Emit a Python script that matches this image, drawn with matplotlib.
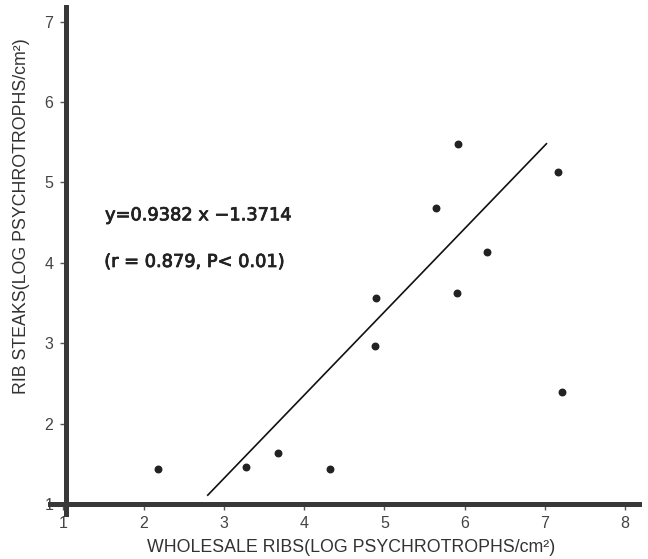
import matplotlib
matplotlib.use("Agg")
import matplotlib.pyplot as plt
import matplotlib.patheffects as pe

# Data
wholesale = [2.18, 3.28, 3.68, 4.32, 4.90, 4.89, 5.64, 5.92, 5.90, 6.28, 7.17, 7.22]
steaks    = [1.44, 1.46, 1.64, 1.44, 3.56, 2.97, 4.68, 5.48, 3.62, 4.13, 5.13, 2.39]
fit_x = [2.80, 7.02]
fit_y = [1.11, 5.48]
x_ticks = [1, 2, 3, 4, 5, 6, 7, 8]
y_ticks = [1, 2, 3, 4, 5, 6, 7]
eq_text = "y=0.9382 x \u22121.3714"
r_text = "(r = 0.879, P< 0.01)"
xlabel = "WHOLESALE RIBS(LOG PSYCHROTROPHS/cm\u00b2)"
ylabel = "RIB STEAKS(LOG PSYCHROTROPHS/cm\u00b2)"

plt.rcParams['font.family'] = ['Liberation Sans', 'DejaVu Sans']

fig = plt.figure(figsize=(6.48, 5.59), dpi=100)
ax = fig.add_axes([0.0977 - 0.17 * 0.888 / 7.17 * 1.0, 0.0984 - 0.12 * 0.889 / 6.18, 0.888 + 0.17 * 0.888 / 7.17, 0.889 + 0.12 * 0.889 / 6.18])
ax.set_xlim(0.83, 8.17)
ax.set_ylim(0.88, 7.18)

spine_col = '#383838'
for s in ['top', 'right']:
    ax.spines[s].set_visible(False)
ax.spines['left'].set_position(('data', 1.03))
ax.spines['bottom'].set_position(('data', 1.0))
ax.spines['left'].set_bounds(0.88, 7.18)
ax.spines['bottom'].set_bounds(0.83, 8.17)
for s in ['left', 'bottom']:
    ax.spines[s].set_linewidth(3.6)
    ax.spines[s].set_color(spine_col)

ax.set_xticks(x_ticks)
ax.set_yticks(y_ticks)
ax.tick_params(axis='both', direction='out', length=4, width=1, color='#555555',
               labelsize=11.5, labelcolor='#444444', pad=5)

ax.scatter(wholesale, steaks, s=22, color='#222222', zorder=3)
ax.plot(fit_x, fit_y, color='#111111', linewidth=1.2, zorder=2)

txt_family = ['DejaVu Sans']
thick = [pe.withStroke(linewidth=0.6, foreground='#222222')]
ax.text(1.52, 4.59, eq_text, fontsize=12.8, family=txt_family, path_effects=thick,
        color='#222222', va='center', ha='left')
ax.text(1.51, 4.01, r_text, fontsize=12.8, family=txt_family, path_effects=thick,
        color='#222222', va='center', ha='left')

fig.text(351 / 648, 1 - 548 / 559, xlabel, fontsize=12.8, color='#333333',
         ha='center', va='center')
fig.text(22 / 648, 1 - 216 / 559, ylabel, fontsize=12.8, color='#333333',
         ha='center', va='center', rotation=90)

fig.savefig("out.png", dpi=100)
